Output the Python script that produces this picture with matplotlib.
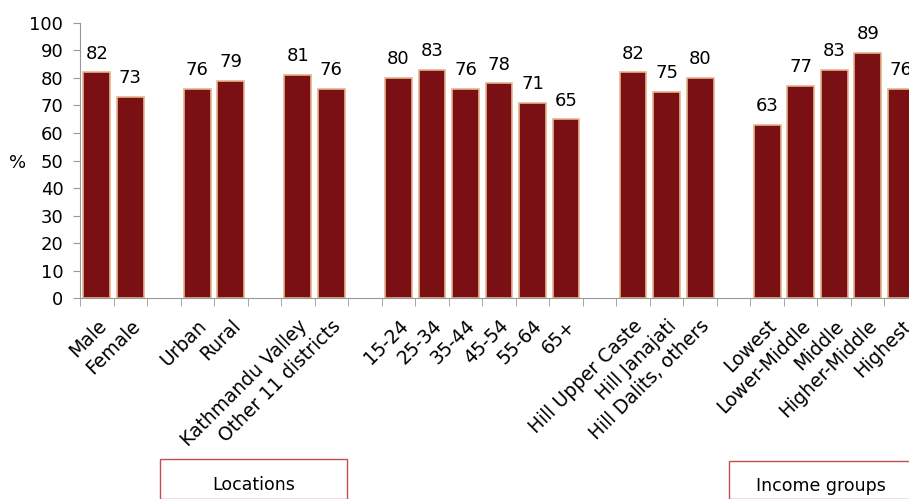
import matplotlib.pyplot as plt
from matplotlib.patches import Rectangle

# categories and values (None = gap slot between groups)
labels = ['Male', 'Female', None,
          'Urban', 'Rural', None,
          'Kathmandu Valley', 'Other 11 districts', None,
          '15-24', '25-34', '35-44', '45-54', '55-64', '65+', None,
          'Hill Upper Caste', 'Hill Janajati', 'Hill Dalits, others', None,
          'Lowest', 'Lower-Middle', 'Middle', 'Higher-Middle', 'Highest']
values = [82, 73, None,
          76, 79, None,
          81, 76, None,
          80, 83, 76, 78, 71, 65, None,
          82, 75, 80, None,
          63, 77, 83, 89, 76]
box_labels = ['Locations', 'Income groups']

plt.rcParams['font.family'] = 'DejaVu Sans'
fig = plt.figure(figsize=(9.09, 4.99), dpi=100)
ax = fig.add_axes([80/909, 1-298.3/499, 838/909, 275.6/499])

xs = [i for i, v in enumerate(values) if v is not None]
ys = [v for v in values if v is not None]
bars = ax.bar(xs, ys, width=0.8, color='#7a1014', edgecolor='#e6b48c', linewidth=1.2)
for x, y in zip(xs, ys):
    ax.text(x, y + 3.5, str(y), ha='center', va='bottom', fontsize=13)

ax.set_xlim(-0.5, len(values) - 0.5)
ax.set_ylim(0, 100)
ax.set_yticks(range(0, 101, 10))
ax.tick_params(axis='y', labelsize=13, color='#999999', length=5, pad=7)

ax.set_xticks(xs)
ax.set_xticklabels([labels[i] for i in xs], rotation=45, ha='right',
                   rotation_mode='anchor', fontsize=13.5)
ax.tick_params(axis='x', length=0, pad=13)
ax.set_xticks([i - 0.5 for i in range(len(values) + 1)], minor=True)
ax.tick_params(axis='x', which='minor', length=6, color='#999999')

for s in ['top', 'right']:
    ax.spines[s].set_visible(False)
for s in ['left', 'bottom']:
    ax.spines[s].set_color('#999999')

fig.text(18/909, 1-163/499, '%', fontsize=13, ha='center', va='center')

# group boxes below the chart
fig.patches.append(Rectangle((160/909, 0), 187/909, 40/499, transform=fig.transFigure,
                             fill=False, edgecolor='#c0504d', linewidth=1))
fig.text(254/909, 1-485/499, box_labels[0], fontsize=12.5, ha='center', va='center')
fig.patches.append(Rectangle((729/909, 0), 200/909, 38/499, transform=fig.transFigure,
                             fill=False, edgecolor='#c0504d', linewidth=1))
fig.text(821/909, 1-486/499, box_labels[1], fontsize=12.5, ha='center', va='center')

fig.savefig('out.png', dpi=100)
